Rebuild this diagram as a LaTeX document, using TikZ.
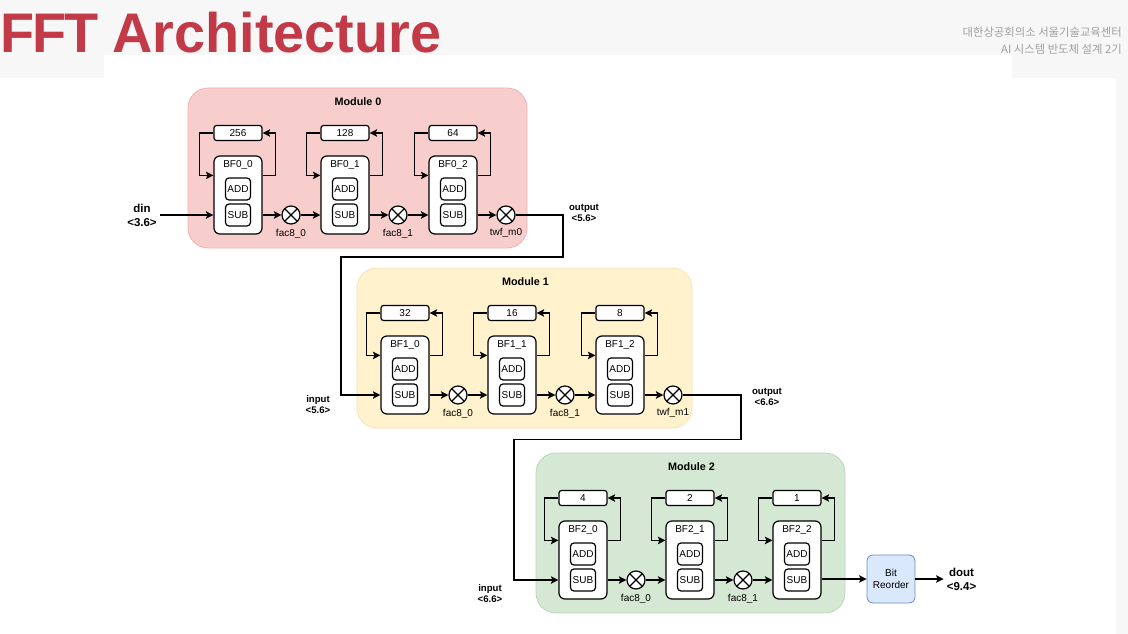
\documentclass[tikz,border=0pt]{standalone}
\usepackage{fontspec}
\setmainfont{Liberation Sans}
\newfontfamily\krfont{Noto Sans CJK KR}
\usetikzlibrary{arrows.meta,calc}
\definecolor{pagegray}{HTML}{F7F7F7}
\definecolor{titlered}{HTML}{C23A48}
\definecolor{subgray}{HTML}{A0A0A0}
\definecolor{redfill}{HTML}{F8CECC}
\definecolor{redline}{HTML}{EDB3B1}
\definecolor{yelfill}{HTML}{FFF2CC}
\definecolor{yelline}{HTML}{F5E3B3}
\definecolor{grnfill}{HTML}{D5E8D4}
\definecolor{grnline}{HTML}{B9D7B5}
\definecolor{bluefill}{HTML}{DAE8FC}
\definecolor{blueline}{HTML}{6C8EBF}
\tikzset{
  x=1pt,y=-1pt,
  modbox/.style={rounded corners=20pt,line width=0.8pt,minimum height=160pt,inner sep=0pt},
  bfbox/.style={draw=black,fill=white,line width=1.2pt,rounded corners=6pt,minimum width=48pt,minimum height=78pt,inner sep=0pt},
  regbox/.style={draw=black,fill=white,line width=1.2pt,rounded corners=2.5pt,minimum width=48pt,minimum height=15pt,inner sep=0pt,font=\fontsize{10}{12}\selectfont},
  opbox/.style={draw=black,fill=white,line width=1.2pt,rounded corners=3.5pt,minimum width=25pt,minimum height=22pt,inner sep=0pt,font=\fontsize{10}{12}\selectfont},
  mixer/.style={draw=black,fill=white,line width=1.2pt,circle,minimum size=18pt,inner sep=0pt,
    path picture={\draw[line width=1.2pt] (path picture bounding box.north west)--(path picture bounding box.south east)
      (path picture bounding box.north east)--(path picture bounding box.south west);}},
  small/.style={font=\fontsize{10}{12}\selectfont,inner sep=0pt},
  modtitle/.style={font=\fontsize{10.8}{13}\selectfont\bfseries,inner sep=0pt},
  portlabel/.style={font=\fontsize{9.6}{11.5}\selectfont\bfseries,align=center,inner sep=0pt},
  iolabel/.style={font=\fontsize{11.5}{14}\selectfont\bfseries,align=center,inner sep=3pt},
  wire/.style={line width=1.2pt,draw=black},
  flow/.style={wire,-{Stealth[length=7.5pt,width=7.5pt,inset=1.5pt]}},
}
% name, left x, centre y, label, register label
\newcommand{\bfblock}[5]{%
  \node[bfbox] (bf#1) at (#2+24,#3) {};
  \node[small] (lab#1) at (#2+24,#3-30) {#4};
  \node[opbox] (add#1) at (#2+24,#3-6) {ADD};
  \node[opbox] (sub#1) at (#2+24,#3+20) {SUB};
  \node[regbox] (reg#1) at (#2+24,#3-62) {#5};
  \draw[flow] (reg#1.west) -- ++(-14,0) |- ([yshift=-20pt]bf#1.north west);
  \draw[flow] ([yshift=-20pt]bf#1.north east) -- ++(13,0) |- (reg#1.east);
}
\begin{document}
\begin{tikzpicture}
\useasboundingbox (0,0) rectangle (1128,634);
\fill[pagegray] (0,0) rectangle (1128,634);
\fill[white] (104,55) -- (1012,55) -- (1012,78) -- (1116,78) -- (1116,634) -- (0,634) -- (0,78) -- (104,78) -- cycle;
\node[anchor=base west,inner sep=0pt,text=titlered,font=\fontsize{55.8}{60}\selectfont\bfseries] (title) at (0,53) {F\kern-1.8pt F\kern-2pt T \kern-1.5pt Architecture};
\node[anchor=east,inner sep=0pt,text=subgray,align=right,font=\fontsize{11.35}{17}\krfont] (sub) at (1122,41) {대한상공회의소 서울기술교육센터\\AI 시스템 반도체 설계 2기};

% modules
\node[modbox,minimum width=339pt,draw=redline,fill=redfill] (m0) at (357.5,168) {};
\node[modbox,minimum width=335pt,draw=yelline,fill=yelfill] (m1) at (524.5,348) {};
\node[modbox,minimum width=309pt,draw=grnline,fill=grnfill] (m2) at (690.5,533) {};
\node[modtitle] (t0) at (358,102) {Module 0};
\node[modtitle] (t1) at (525.5,282) {Module 1};
\node[modtitle] (t2) at (691.5,467) {Module 2};

% module 0
\bfblock{00}{214}{195}{BF0\_0}{256}
\bfblock{01}{321}{195}{BF0\_1}{128}
\bfblock{02}{429}{195}{BF0\_2}{64}
\node[mixer] (x00) at (291,215) {};
\node[mixer] (x01) at (398,215) {};
\node[mixer] (x02) at (506,215) {};
\node[small] at (291,234) {fac8\_0};
\node[small] at (398,234) {fac8\_1};
\node[small] at (506,233) {twf\_m0};
% module 1
\bfblock{10}{381}{375}{BF1\_0}{32}
\bfblock{11}{488}{375}{BF1\_1}{16}
\bfblock{12}{596}{375}{BF1\_2}{8}
\node[mixer] (x10) at (458,395) {};
\node[mixer] (x11) at (565,395) {};
\node[mixer] (x12) at (673,395) {};
\node[small] at (458,414) {fac8\_0};
\node[small] at (565,414) {fac8\_1};
\node[small] at (673,413) {twf\_m1};
% module 2
\bfblock{20}{559}{560}{BF2\_0}{4}
\bfblock{21}{666}{560}{BF2\_1}{2}
\bfblock{22}{773}{560}{BF2\_2}{1}
\node[mixer] (x20) at (636,580) {};
\node[mixer] (x21) at (743,580) {};
\node[small] at (636,599) {fac8\_0};
\node[small] at (743,599) {fac8\_1};
\node[draw=blueline,fill=bluefill,line width=0.8pt,rounded corners=6pt,minimum width=48pt,minimum height=48pt,inner sep=0pt,align=center,font=\fontsize{10}{12}\selectfont] (rev) at (891,579) {Bit\\Reorder};

% labels
\node[iolabel] (din) at (142,215) {din\\{}<3.6>};
\node[iolabel] (dout) at (961.5,579) {dout\\{}<9.4>};
\node[portlabel] at (584,213) {output\\{}<5.6>};
\node[portlabel] at (318,404.5) {input\\{}<5.6>};
\node[portlabel] at (767,397) {output\\{}<6.6>};
\node[portlabel] at (490,593.5) {input\\{}<6.6>};

% connectors
\coordinate (din0) at ([yshift=-20pt]bf00.west);
\draw[flow] (din.east |- din0) -- (din0);
\foreach \a/\b/\c in {00/x00/01,01/x01/02,10/x10/11,11/x11/12,20/x20/21,21/x21/22}{
  \draw[flow] ([yshift=-20pt]bf\a.east) -- (\b);
  \draw[flow] (\b) -- ([yshift=-20pt]bf\c.west);
}
\draw[flow] ([yshift=-20pt]bf02.east) -- (x02);
\draw[flow] ([yshift=-20pt]bf12.east) -- (x12);
\draw[flow] (x02) -- ++(57,0) |- (341,257) |- ([yshift=-20pt]bf10.west);
\draw[flow] (x12) -- ++(68,0) |- (514,439.5) |- ([yshift=-20pt]bf20.west);
\draw[flow] (bf22.east |- rev.west) -- (rev.west);
\draw[flow] (rev.east) -- (dout.west);
\end{tikzpicture}
\end{document}
